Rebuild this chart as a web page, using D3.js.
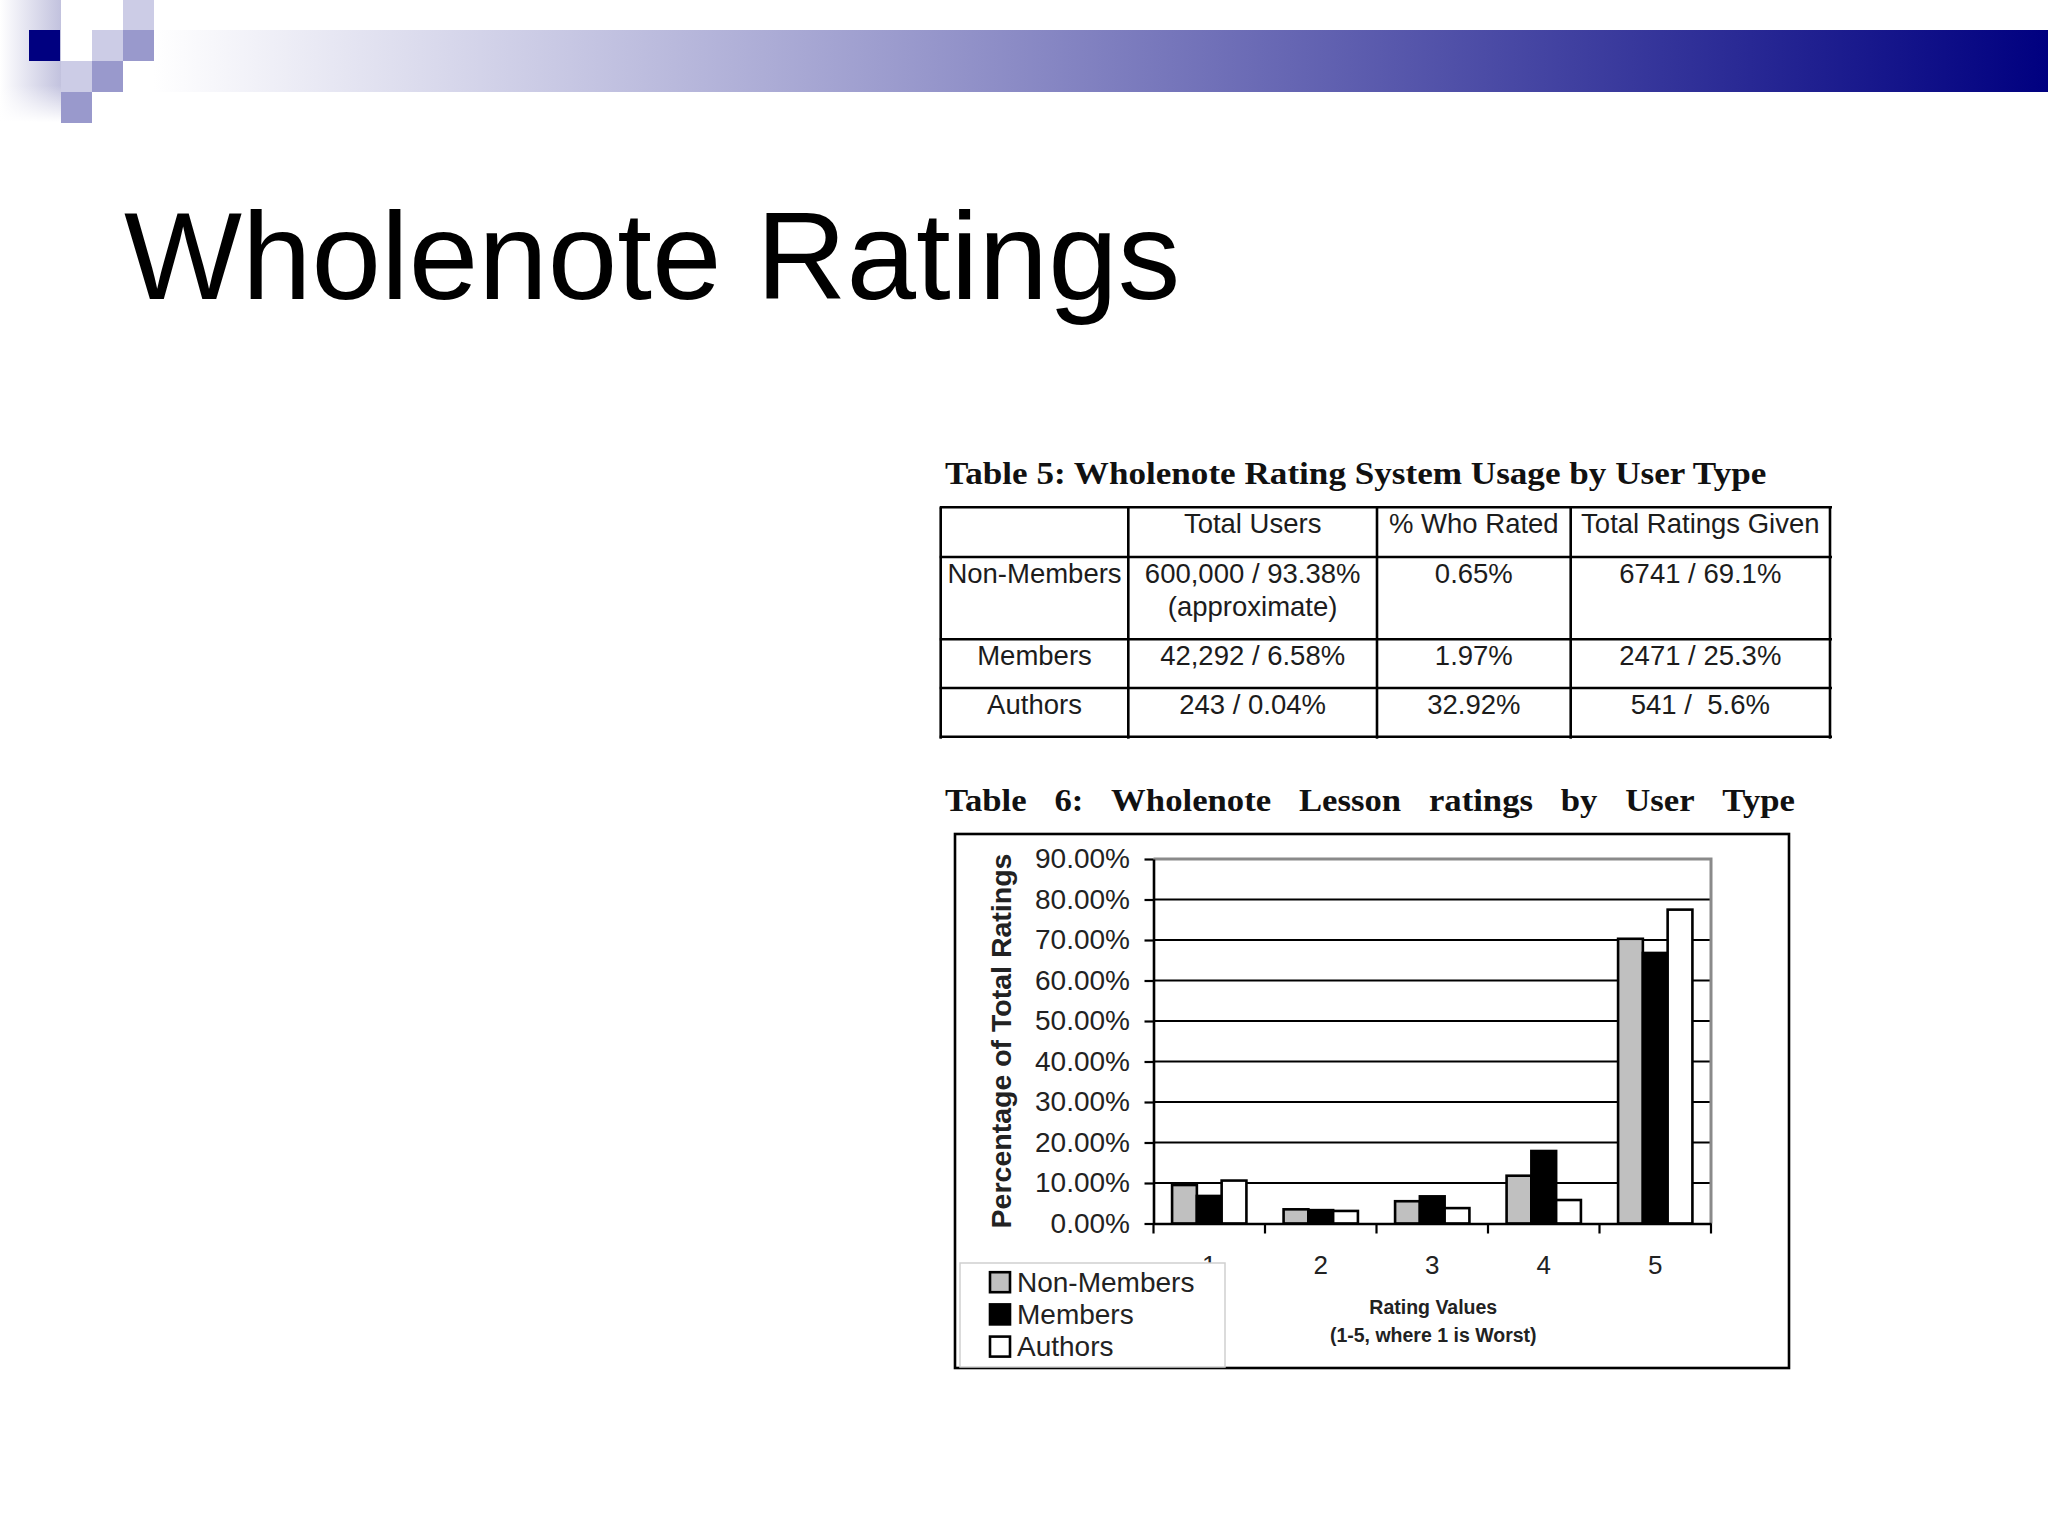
<!DOCTYPE html>
<html><head><meta charset="utf-8">
<script src="https://cdn.jsdelivr.net/npm/d3@7"></script>
<style>
html,body{margin:0;padding:0;background:#fff;}
svg{display:block;}
text{white-space:pre;}
</style>
</head><body>
<svg id="c" width="2048" height="1536"></svg>
<script>
// ---------- data ----------
const pageTitle = "Wholenote Ratings";
const table5Title = "Table 5: Wholenote Rating System Usage by User Type";
const table6Title = "Table 6: Wholenote Lesson ratings by User Type";
const tableColumns = ["", "Total Users", "% Who Rated", "Total Ratings Given"];
const tableRowLabels = ["Non-Members", "Members", "Authors"];
const totalUsers = [["600,000 / 93.38%", "(approximate)"], ["42,292 / 6.58%"], ["243 / 0.04%"]];
const whoRated = ["0.65%", "1.97%", "32.92%"];
const ratingsGiven = ["6741 / 69.1%", "2471 / 25.3%", "541 /  5.6%"];

const categories = ["1", "2", "3", "4", "5"];
const seriesNames = ["Non-Members", "Members", "Authors"];
const nonMembers = [9.5, 3.5, 5.5, 11.8, 70.3];
const members = [6.8, 3.3, 6.7, 17.9, 66.8];
const authors = [10.6, 3.1, 3.8, 5.8, 77.5];
const yTickValues = [0, 10, 20, 30, 40, 50, 60, 70, 80, 90];
const yAxisTitle = "Percentage of Total Ratings";
const xAxisTitle = ["Rating Values", "(1-5, where 1 is Worst)"];

// ---------- styles / layout ----------
const SANS = "'Liberation Sans', Arial, sans-serif";
const SERIF = "'Liberation Serif', 'Times New Roman', serif";
const seriesFill = {"Non-Members": "#c0c0c0", "Members": "#000000", "Authors": "#ffffff"};
const seriesValues = {"Non-Members": nonMembers, "Members": members, "Authors": authors};

const svg = d3.select("#c");
svg.append("rect").attr("width", 2048).attr("height", 1536).attr("fill", "#fff");

// ---------- slide decoration ----------
const defs = svg.append("defs");
const g1 = defs.append("linearGradient").attr("id", "bar").attr("x1", "0").attr("x2", "1").attr("y1", "0").attr("y2", "0");
g1.append("stop").attr("offset", "0").attr("stop-color", "#ffffff");
g1.append("stop").attr("offset", "1").attr("stop-color", "#000080");
const g2 = defs.append("linearGradient").attr("id", "side").attr("x1", "0").attr("x2", "1").attr("y1", "0").attr("y2", "0");
g2.append("stop").attr("offset", "0").attr("stop-color", "#ffffff");
g2.append("stop").attr("offset", "1").attr("stop-color", "#c2c2de");
const g3 = defs.append("linearGradient").attr("id", "side2").attr("x1", "0").attr("x2", "0").attr("y1", "0").attr("y2", "1");
g3.append("stop").attr("offset", "0.7").attr("stop-color", "#ffffff").attr("stop-opacity", 0);
g3.append("stop").attr("offset", "1").attr("stop-color", "#ffffff").attr("stop-opacity", 1);

svg.append("rect").attr("x", 153).attr("y", 30).attr("width", 1895).attr("height", 62).attr("fill", "url(#bar)");
svg.append("rect").attr("x", 0).attr("y", 0).attr("width", 61).attr("height", 122).attr("fill", "url(#side)");
svg.append("rect").attr("x", 0).attr("y", 0).attr("width", 61).attr("height", 122).attr("fill", "url(#side2)");
const squares = [
  [29, 30, "#000080"],
  [123, 0, "#ccccE6"],
  [92, 30, "#ccccE6"],
  [123, 30, "#9999cc"],
  [61, 61, "#ccccE6"],
  [92, 61, "#9999cc"],
  [61, 92, "#9999cc"]
];
svg.selectAll("rect.sq").data(squares).join("rect").attr("class", "sq")
  .attr("x", d => d[0]).attr("y", d => d[1]).attr("width", 31).attr("height", 31).attr("fill", d => d[2]);

svg.append("text").attr("x", 124).attr("y", 299)
  .attr("font-family", SANS).attr("font-size", 125).attr("fill", "#000").text(pageTitle);

// ---------- Table 5 ----------
svg.append("text").attr("transform", "translate(945,484) scale(1.085,1)")
  .attr("font-family", SERIF).attr("font-weight", "bold").attr("font-size", 32).attr("fill", "#111")
  .attr("textLength", 757).attr("lengthAdjust", "spacingAndGlyphs").text(table5Title);

const colX = [940.7, 1128.3, 1377, 1570.7, 1830];
const rowY = [507.3, 557, 639.3, 688, 736.7];
const tg = svg.append("g");
tg.selectAll("line.h").data(rowY).join("line").attr("class", "h")
  .attr("x1", colX[0] - 1).attr("x2", colX[colX.length - 1] + 2).attr("y1", d => d).attr("y2", d => d)
  .attr("stroke", "#000").attr("stroke-width", 2.6);
tg.selectAll("line.v").data(colX).join("line").attr("class", "v")
  .attr("x1", d => d).attr("x2", d => d).attr("y1", rowY[0]).attr("y2", rowY[rowY.length - 1] + 2)
  .attr("stroke", "#000").attr("stroke-width", 2.6);

const cells = [];
tableColumns.forEach((t, i) => cells.push({col: i, row: 0, lines: [t]}));
tableRowLabels.forEach((lab, r) => {
  cells.push({col: 0, row: r + 1, lines: [lab]});
  cells.push({col: 1, row: r + 1, lines: totalUsers[r]});
  cells.push({col: 2, row: r + 1, lines: [whoRated[r]]});
  cells.push({col: 3, row: r + 1, lines: [ratingsGiven[r]]});
});
cells.forEach(c => {
  const cx = (colX[c.col] + colX[c.col + 1]) / 2;
  const t = tg.append("text").attr("x", cx).attr("y", rowY[c.row] + 25.8)
    .attr("text-anchor", "middle").attr("font-family", SANS).attr("font-size", 27.5).attr("fill", "#1c1c1c");
  c.lines.forEach((ln, k) => {
    t.append("tspan").attr("x", cx).attr("dy", k === 0 ? 0 : 33).text(ln);
  });
});

// ---------- Table 6 title (justified) ----------
const t6 = svg.append("g").attr("transform", "translate(945,811) scale(1.085,1)")
  .attr("font-family", SERIF).attr("font-weight", "bold").attr("font-size", 32).attr("fill", "#111");
const words = table6Title.split(" ");
const wEls = words.map(w => t6.append("text").attr("x", 0).attr("y", 0).text(w));
const widths = wEls.map(e => e.node().getComputedTextLength());
const span = (1795 - 945) / 1.085;
const gap = (span - d3.sum(widths)) / (words.length - 1);
let acc = 0;
wEls.forEach((e, i) => { e.attr("x", acc); acc += widths[i] + gap; });

// ---------- Chart ----------
const frame = {x: 955, y: 834, w: 834, h: 534};
svg.append("rect").attr("x", frame.x).attr("y", frame.y).attr("width", frame.w).attr("height", frame.h)
  .attr("fill", "#fff").attr("stroke", "#000").attr("stroke-width", 2.6);

const plotX0 = 1153.5, plotX1 = 1711, plotY0 = 1223.5, plotY1 = 859;
const x = d3.scaleBand().domain(categories).range([plotX0, plotX1]).paddingInner(0).paddingOuter(0);
const xs = d3.scaleBand().domain(seriesNames).range([0, x.bandwidth()]).paddingInner(0).paddingOuter(0.75);
const y = d3.scaleLinear().domain([0, 90]).range([plotY0, plotY1]);

const chart = svg.append("g");
// gridlines
chart.selectAll("line.grid").data(yTickValues.filter(v => v > 0 && v < 90)).join("line").attr("class", "grid")
  .attr("x1", plotX0).attr("x2", plotX1).attr("y1", d => y(d)).attr("y2", d => y(d))
  .attr("stroke", "#000").attr("stroke-width", 2.2);
// gray plot border (top & right)
chart.append("path")
  .attr("d", `M${plotX0},${y(90)}H${plotX1}V${y(0)}`)
  .attr("fill", "none").attr("stroke", "#8a8a8a").attr("stroke-width", 3);

// bars
const bars = [];
categories.forEach((c, i) => seriesNames.forEach(s => bars.push({c, s, v: seriesValues[s][i]})));
chart.selectAll("rect.bar").data(bars).join("rect").attr("class", "bar")
  .attr("x", d => x(d.c) + xs(d.s)).attr("y", d => y(d.v))
  .attr("width", xs.bandwidth()).attr("height", d => y(0) - y(d.v))
  .attr("fill", d => seriesFill[d.s]).attr("stroke", "#000").attr("stroke-width", 2.6);

// y axis
const yAxis = chart.append("g").attr("transform", `translate(${plotX0},0)`)
  .call(d3.axisLeft(y).tickValues(yTickValues).tickSize(9).tickSizeOuter(0).tickPadding(14.5)
    .tickFormat(d => d.toFixed(2) + "%"));
yAxis.select(".domain").attr("stroke", "#000").attr("stroke-width", 2.6);
yAxis.selectAll(".tick line").attr("stroke", "#000").attr("stroke-width", 2.2);
yAxis.selectAll(".tick text").attr("font-family", SANS).attr("font-size", 28).attr("fill", "#222");

// x axis
const xAxis = chart.append("g").attr("transform", `translate(0,${plotY0})`)
  .call(d3.axisBottom(x).tickSize(0).tickSizeOuter(0).tickPadding(38));
xAxis.select(".domain").attr("stroke", "#000").attr("stroke-width", 2.6);
xAxis.selectAll(".tick text").attr("font-family", SANS).attr("font-size", 26).attr("fill", "#222")
  .attr("dy", 0).attr("y", 50);
const boundaries = categories.map(c => x(c)).concat([x.range()[1]]);
chart.selectAll("line.xt").data(boundaries).join("line").attr("class", "xt")
  .attr("x1", d => d).attr("x2", d => d).attr("y1", plotY0).attr("y2", plotY0 + 10)
  .attr("stroke", "#000").attr("stroke-width", 2.2);

// axis titles
svg.append("text").attr("transform", "translate(1011,1041) rotate(-90)").attr("text-anchor", "middle")
  .attr("font-family", SANS).attr("font-weight", "bold").attr("font-size", 28.5).attr("fill", "#222").text(yAxisTitle);
const xCenter = (plotX0 + plotX1) / 2;
svg.selectAll("text.xtitle").data(xAxisTitle).join("text").attr("class", "xtitle")
  .attr("x", xCenter + 1).attr("y", (d, i) => 1313.5 + i * 28.5).attr("text-anchor", "middle")
  .attr("font-family", SANS).attr("font-weight", "bold").attr("font-size", 19.5).attr("fill", "#222").text(d => d);

// legend
const lg = svg.append("g");
lg.append("rect").attr("x", 960).attr("y", 1263).attr("width", 265).attr("height", 104)
  .attr("fill", "#fff").attr("stroke", "#cfcfcf").attr("stroke-width", 1.5);
const li = lg.selectAll("g.item").data(seriesNames).join("g").attr("class", "item")
  .attr("transform", (d, i) => `translate(0,${1291.7 + i * 32.2})`);
li.append("rect").attr("x", 990).attr("y", -19.5).attr("width", 20).attr("height", 20)
  .attr("fill", d => seriesFill[d]).attr("stroke", "#000").attr("stroke-width", 2.6);
li.append("text").attr("x", 1017).attr("y", 0).attr("font-family", SANS).attr("font-size", 28)
  .attr("fill", "#222").text(d => d);
</script>
</body></html>
